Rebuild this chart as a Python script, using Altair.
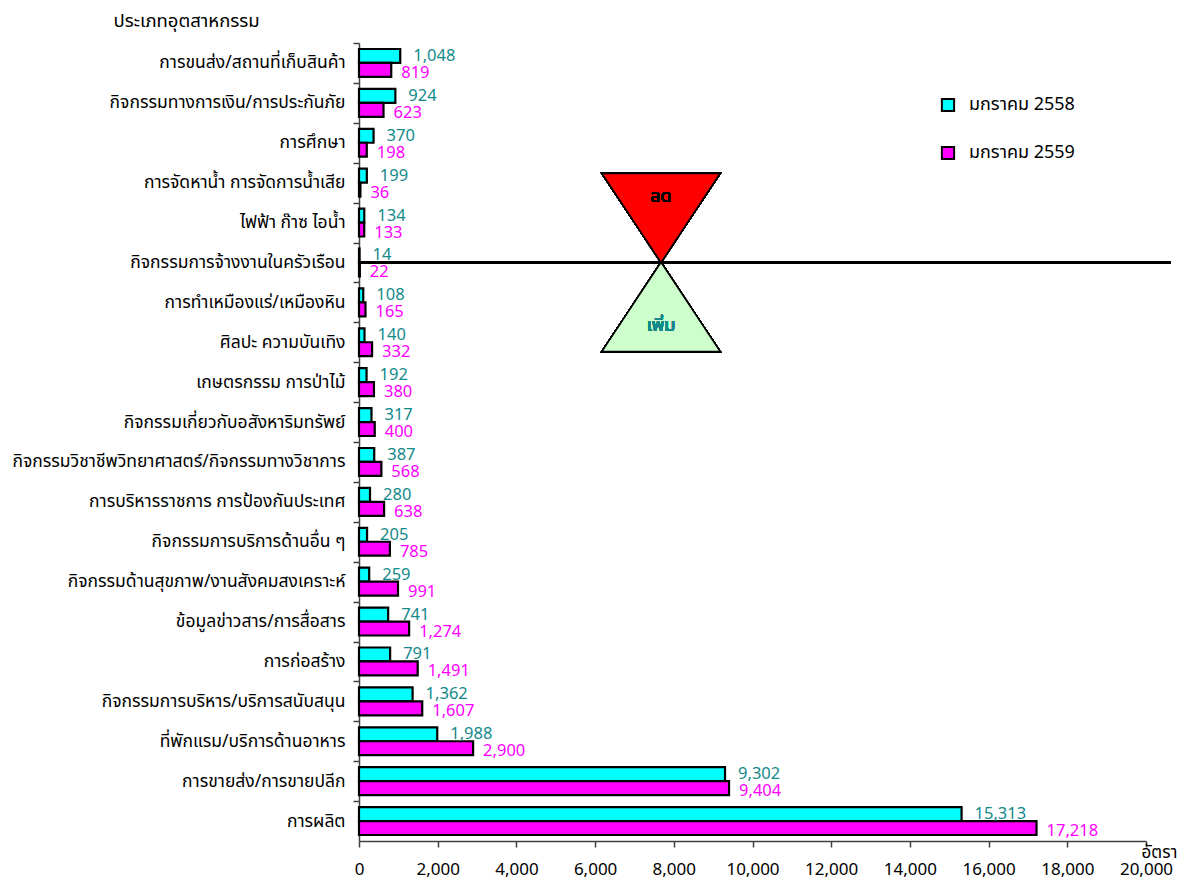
import altair as alt
import pandas as pd

categories = [
    "การขนส่ง/สถานที่เก็บสินค้า",
    "กิจกรรมทางการเงิน/การประกันภัย",
    "การศึกษา",
    "การจัดหาน้ำ การจัดการน้ำเสีย",
    "ไฟฟ้า ก๊าซ ไอน้ำ",
    "กิจกรรมการจ้างงานในครัวเรือน",
    "การทำเหมืองแร่/เหมืองหิน",
    "ศิลปะ ความบันเทิง",
    "เกษตรกรรม การป่าไม้",
    "กิจกรรมเกี่ยวกับอสังหาริมทรัพย์",
    "กิจกรรมวิชาชีพวิทยาศาสตร์/กิจกรรมทางวิชาการ",
    "การบริหารราชการ การป้องกันประเทศ",
    "กิจกรรมการบริการด้านอื่น ๆ",
    "กิจกรรมด้านสุขภาพ/งานสังคมสงเคราะห์",
    "ข้อมูลข่าวสาร/การสื่อสาร",
    "การก่อสร้าง",
    "กิจกรรมการบริหาร/บริการสนับสนุน",
    "ที่พักแรม/บริการด้านอาหาร",
    "การขายส่ง/การขายปลีก",
    "การผลิต",
]
series = ["มกราคม 2558", "มกราคม 2559"]
values_2558 = [1048, 924, 370, 199, 134, 14, 108, 140, 192, 317, 387, 280, 205, 259, 741, 791, 1362, 1988, 9302, 15313]
values_2559 = [819, 623, 198, 36, 133, 22, 165, 332, 380, 400, 568, 638, 785, 991, 1274, 1491, 1607, 2900, 9404, 17218]
x_ticks = [0, 2000, 4000, 6000, 8000, 10000, 12000, 14000, 16000, 18000, 20000]

# annotation (hourglass) anchored on the household-employment row
marker_category = "กิจกรรมการจ้างงานในครัวเรือน"
marker_x = 7675
down_label = "ลด"
up_label = "เพิ่ม"

rows = []
for c, a, b in zip(categories, values_2558, values_2559):
    rows.append({"cat": c, "series": series[0], "value": a})
    rows.append({"cat": c, "series": series[1], "value": b})
df = pd.DataFrame(rows)

FONT = "Tahoma, 'Noto Sans Thai', Loma, 'Noto Sans', sans-serif"
W, H = 787, 798
step = H / len(categories)

y_axis = alt.Axis(
    title="ประเภทอุตสาหกรรม",
    titleAngle=0, titleAlign="left", titleBaseline="middle",
    titleX=-246, titleY=-23, titleFontSize=18.5, titleFontWeight="normal",
    titleFont=FONT, titleColor="black",
    labelFont=FONT, labelFontSize=17.5, labelColor="black", labelLimit=0,
    tickOffset=-step / 2, labelOffset=step / 2,
    tickSize=6, labelPadding=8, domainColor="#404040", tickColor="#404040",
    domainWidth=1.5, tickWidth=1.5,
)
y_enc = alt.Y("cat:N", sort=categories,
              scale=alt.Scale(paddingInner=0.3, paddingOuter=0.15),
              axis=y_axis)
yoff = alt.YOffset("series:N", sort=series, scale=alt.Scale(paddingInner=0, paddingOuter=0))

x_enc = alt.X(
    "value:Q",
    scale=alt.Scale(domain=[0, 20000], nice=False),
    axis=alt.Axis(
        values=x_ticks, format=",.0f", grid=False, labelOverlap=False, labelFlush=False,
        title="อัตรา", titleX=800, titleY=11, titleAlign="center",
        titleBaseline="middle", titleFontSize=17, titleFontWeight="normal",
        titleFont=FONT, titleColor="black",
        labelFont=FONT, labelFontSize=17, labelColor="black",
        tickSize=6, labelPadding=14, domainColor="#404040", tickColor="#404040",
        domainWidth=1.5, tickWidth=1.5,
    ),
)

bars = alt.Chart(df).mark_bar(stroke="black", strokeWidth=2.2).encode(
    x=x_enc,
    y=y_enc,
    yOffset=yoff,
    fill=alt.Fill(
        "series:N",
        scale=alt.Scale(domain=series, range=["#00FFFF", "#FF00FF"]),
        legend=alt.Legend(
            title=None, orient="none", legendX=580, legendY=53,
            symbolType="square", symbolSize=150, symbolStrokeColor="black",
            symbolStrokeWidth=2, labelFont=FONT, labelFontSize=18,
            labelColor="black", rowPadding=26, labelOffset=12,
        ),
    ),
)

lab_a = alt.Chart(df).transform_filter(alt.datum.series == series[0]).mark_text(
    align="left", baseline="middle", dx=13, dy=0, fontSize=16.5, font=FONT, color="#138A8A"
).encode(x="value:Q", y=alt.Y("cat:N", sort=categories), yOffset=yoff,
         text=alt.Text("value:Q", format=","))

lab_b = alt.Chart(df).transform_filter(alt.datum.series == series[1]).mark_text(
    align="left", baseline="middle", dx=10, dy=3, fontSize=16.5, font=FONT, color="#FF00FF"
).encode(x="value:Q", y=alt.Y("cat:N", sort=categories), yOffset=yoff,
         text=alt.Text("value:Q", format=","))

line = alt.Chart(df).mark_rule(color="black", strokeWidth=1.5).encode(
    x=alt.value(0), x2=alt.value(812), y=alt.datum(marker_category)
)

tri_down = alt.Chart(df).mark_point(
    shape="M-1,-1.508L1,-1.508L0,0Z", size=13924, filled=True,
    fill="#FF0000", stroke="black", strokeWidth=1.5, opacity=1
).encode(x=alt.datum(marker_x), y=alt.datum(marker_category))

tri_up = alt.Chart(df).mark_point(
    shape="M-1,1.508L1,1.508L0,0Z", size=13924, filled=True,
    fill="#CCFFCC", stroke="black", strokeWidth=1.5, opacity=1
).encode(x=alt.datum(marker_x), y=alt.datum(marker_category))

txt_down = alt.Chart(df).mark_text(
    text=down_label, fontSize=18, font=FONT, color="black", dy=-65
).encode(x=alt.datum(marker_x), y=alt.datum(marker_category))

txt_up = alt.Chart(df).mark_text(
    text=up_label, fontSize=18, font=FONT, color="#138A8A", dy=64
).encode(x=alt.datum(marker_x), y=alt.datum(marker_category))

chart = alt.layer(bars, lab_a, lab_b, line, tri_down, tri_up, txt_down, txt_up).properties(
    width=W, height=H,
    autosize=alt.AutoSizeParams(type="none"),
    padding={"left": 351, "top": 35, "right": 34, "bottom": 40},
).configure_view(stroke=None)

chart.save("out.html", embed_options={"renderer": "svg", "actions": False})
